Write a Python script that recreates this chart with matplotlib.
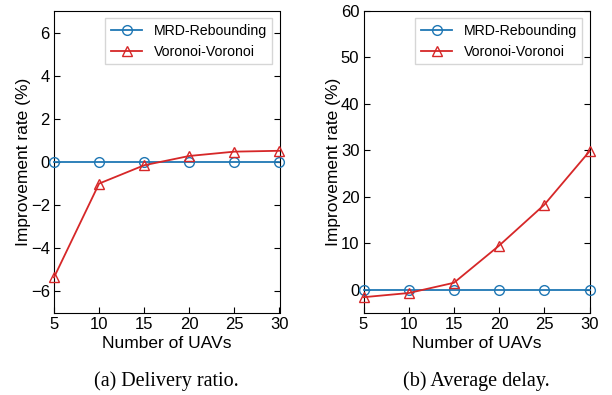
import matplotlib
matplotlib.use("Agg")
import matplotlib.pyplot as plt

uavs = [5, 10, 15, 20, 25, 30]
mrd_delivery = [0, 0, 0, 0, 0, 0]
vor_delivery = [-5.35, -1.0, -0.15, 0.28, 0.48, 0.52]
mrd_delay = [0, 0, 0, 0, 0, 0]
vor_delay = [-1.6, -0.7, 1.5, 9.5, 18.3, 29.8]

plt.rcParams['font.family'] = ['Liberation Sans', 'DejaVu Sans']

fig = plt.figure(figsize=(6.12, 3.95), dpi=100)
ax1 = fig.add_axes([54 / 612, 1 - 313 / 395, 225.5 / 612, 302 / 395])
ax2 = fig.add_axes([363.5 / 612, 1 - 313 / 395, 226 / 612, 302 / 395])

blue = '#1f77b4'
red = '#d62728'


def draw(ax, mrd, vor, ylim, yticks, caption):
    ax.plot(uavs, mrd, color=blue, marker='o', markersize=7, mfc='none',
            lw=1.3, clip_on=False, label='MRD-Rebounding', zorder=3)
    ax.plot(uavs, vor, color=red, marker='^', markersize=7.5, mfc='none',
            lw=1.3, clip_on=False, label='Voronoi-Voronoi', zorder=3)
    ax.set_xlim(5, 30)
    ax.set_ylim(*ylim)
    ax.set_xticks(uavs)
    ax.set_yticks(yticks)
    ax.tick_params(direction='in', right=True, top=False, labelsize=12,
                   length=4, pad=3)
    ax.set_xlabel('Number of UAVs', fontsize=12.5, labelpad=2.5)
    ax.set_ylabel('Improvement rate (%)', fontsize=12.5, labelpad=0)
    ax.legend(loc='upper right', fontsize=10.2, fancybox=False,
              edgecolor='#cccccc', borderaxespad=0.5, handlelength=2.2)
    ax.text(0.5, -0.226, caption, transform=ax.transAxes, ha='center',
            va='center', fontsize=14.5, family=['Liberation Serif'])


draw(ax1, mrd_delivery, vor_delivery, (-7, 7), [-6, -4, -2, 0, 2, 4, 6],
     '(a) Delivery ratio.')
draw(ax2, mrd_delay, vor_delay, (-5, 60), [0, 10, 20, 30, 40, 50, 60],
     '(b) Average delay.')

fig.savefig('out.png', dpi=100)
